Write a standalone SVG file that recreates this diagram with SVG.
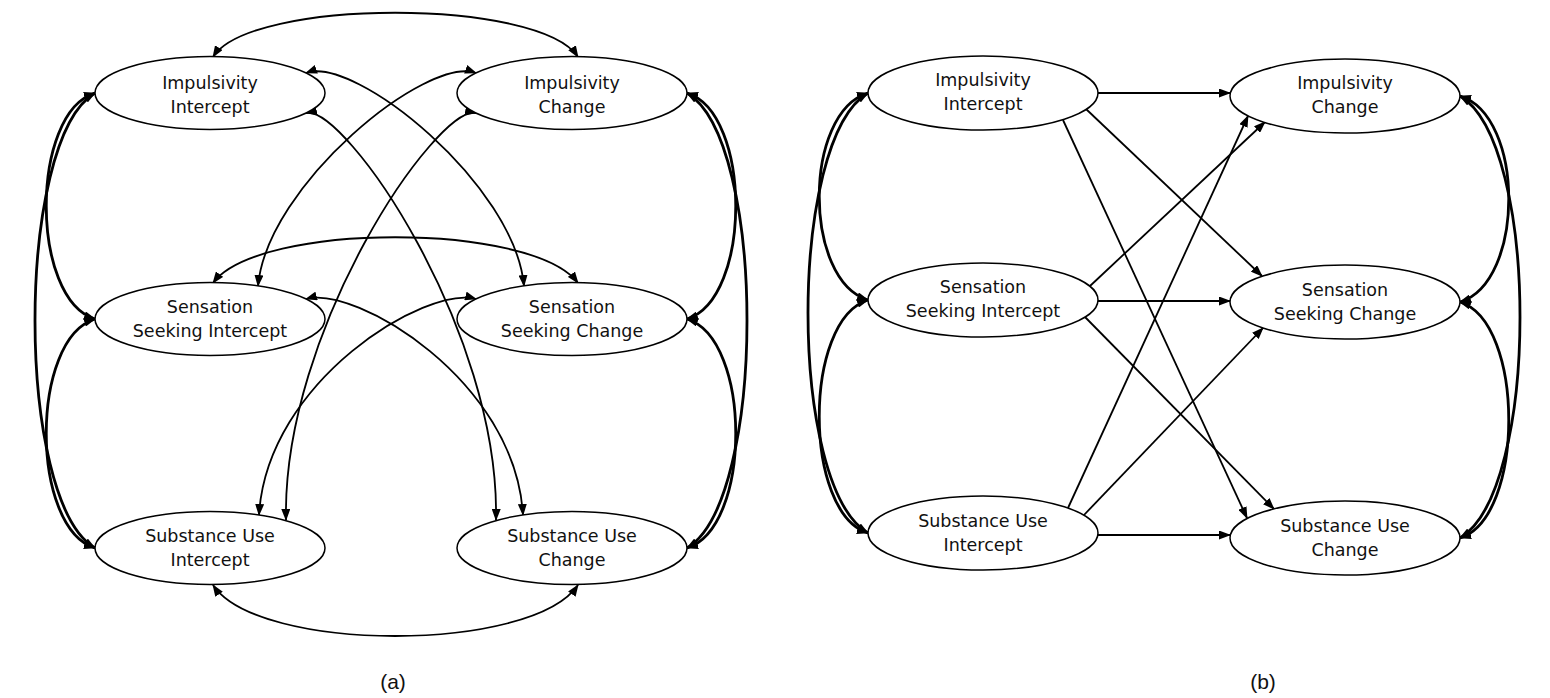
<svg xmlns="http://www.w3.org/2000/svg" width="1550" height="698" viewBox="0 0 1550 698">
<style>
.node ellipse{fill:#fff;stroke:#000;stroke-width:1.5}
.node text{font-family:"DejaVu Sans",Verdana,sans-serif;font-size:17.5px;fill:#111;text-anchor:middle}
.c{fill:none;stroke:#000;stroke-width:1.8}
.bi{marker-start:url(#ah);marker-end:url(#ah)}
.one{marker-end:url(#ah)}
.thick{stroke-width:2.8}
.lbl{font-family:"Liberation Sans",Arial,sans-serif;font-size:21px;fill:#111;text-anchor:middle}
</style>
<defs>
<marker id="ah" viewBox="0 0 12 9" markerWidth="12" markerHeight="9" refX="11" refY="4.5" orient="auto-start-reverse" markerUnits="userSpaceOnUse">
<path d="M0,0 L12,4.5 L0,9 z" fill="#000"/>
</marker>
</defs>
<rect width="1550" height="698" fill="#fff"/>

<g id="connectors">
<!-- panel a -->
<path class="c bi" d="M213,57 C250,-2 540,-2 578,57"/>
<path class="c bi" d="M213,283 C258,222 532,222 578,283"/>
<path class="c bi" d="M213,585 C258,653 532,653 578,585"/>
<path class="c bi" d="M306,73 C355,55 515,185 524,286"/>
<path class="c bi" d="M476,73 C427,55 267,185 258,286"/>
<path class="c bi" d="M306,113 C345,105 500,330 496,520"/>
<path class="c bi" d="M476,113 C437,105 282,330 286,520"/>
<path class="c bi" d="M306,299 C355,285 515,380 523,515"/>
<path class="c bi" d="M476,299 C427,285 267,380 259,515"/>
<path class="c bi thick" d="M95,93 C30,113 30,299 95,319"/>
<path class="c bi thick" d="M95,319 C30,339 30,528 95,548"/>
<path class="c bi thick" d="M95,93 C15,140 15,501 95,548"/>
<path class="c bi thick" d="M687,93 C752,113 752,299 687,319"/>
<path class="c bi thick" d="M687,319 C752,339 752,528 687,548"/>
<path class="c bi thick" d="M687,93 C767,140 767,501 687,548"/>
<!-- panel b -->
<path class="c bi thick" d="M868,93 C803,113 803,280 868,300"/>
<path class="c bi thick" d="M868,300 C803,320 803,513 868,533"/>
<path class="c bi thick" d="M868,93 C788,140 788,486 868,533"/>
<path class="c bi thick" d="M1460,96 C1525,116 1525,282 1460,302"/>
<path class="c bi thick" d="M1460,302 C1525,322 1525,518 1460,538"/>
<path class="c bi thick" d="M1460,96 C1540,143 1540,491 1460,538"/>
<path class="c one" d="M1098,93 L1230,93"/>
<path class="c one" d="M1098,301 L1230,301"/>
<path class="c one" d="M1098,535 L1230,535"/>
<path class="c one" d="M1086,109 L1262,276"/>
<path class="c one" d="M1063,120 L1247,518"/>
<path class="c one" d="M1085,317 L1274,509"/>
<path class="c one" d="M1090,286 L1265,122"/>
<path class="c one" d="M1068,508 L1248,116"/>
<path class="c one" d="M1084,515 L1263,328"/>
</g>

<g id="a-imp-int" class="node"><ellipse cx="210" cy="93" rx="115" ry="36.5"/><text x="210" y="89">Impulsivity</text><text x="210" y="113">Intercept</text></g>
<g id="a-imp-chg" class="node"><ellipse cx="572" cy="93" rx="115" ry="36.5"/><text x="572" y="89">Impulsivity</text><text x="572" y="113">Change</text></g>
<g id="a-ss-int" class="node"><ellipse cx="210" cy="319" rx="115" ry="36.5"/><text x="210" y="313">Sensation</text><text x="210" y="337">Seeking Intercept</text></g>
<g id="a-ss-chg" class="node"><ellipse cx="572" cy="319" rx="115" ry="36.5"/><text x="572" y="313">Sensation</text><text x="572" y="337">Seeking Change</text></g>
<g id="a-su-int" class="node"><ellipse cx="210" cy="548" rx="115" ry="36.5"/><text x="210" y="542">Substance Use</text><text x="210" y="566">Intercept</text></g>
<g id="a-su-chg" class="node"><ellipse cx="572" cy="548" rx="115" ry="36.5"/><text x="572" y="542">Substance Use</text><text x="572" y="566">Change</text></g>

<g id="b-imp-int" class="node"><ellipse cx="983" cy="93" rx="115" ry="37"/><text x="983" y="86">Impulsivity</text><text x="983" y="110">Intercept</text></g>
<g id="b-imp-chg" class="node"><ellipse cx="1345" cy="96" rx="115" ry="37"/><text x="1345" y="89">Impulsivity</text><text x="1345" y="113">Change</text></g>
<g id="b-ss-int" class="node"><ellipse cx="983" cy="300" rx="115" ry="37"/><text x="983" y="293">Sensation</text><text x="983" y="317">Seeking Intercept</text></g>
<g id="b-ss-chg" class="node"><ellipse cx="1345" cy="302" rx="115" ry="37"/><text x="1345" y="296">Sensation</text><text x="1345" y="320">Seeking Change</text></g>
<g id="b-su-int" class="node"><ellipse cx="983" cy="533" rx="115" ry="37"/><text x="983" y="527">Substance Use</text><text x="983" y="551">Intercept</text></g>
<g id="b-su-chg" class="node"><ellipse cx="1345" cy="538" rx="115" ry="37"/><text x="1345" y="532">Substance Use</text><text x="1345" y="556">Change</text></g>

<text class="lbl" x="393" y="689">(a)</text>
<text class="lbl" x="1263" y="689">(b)</text>
</svg>
